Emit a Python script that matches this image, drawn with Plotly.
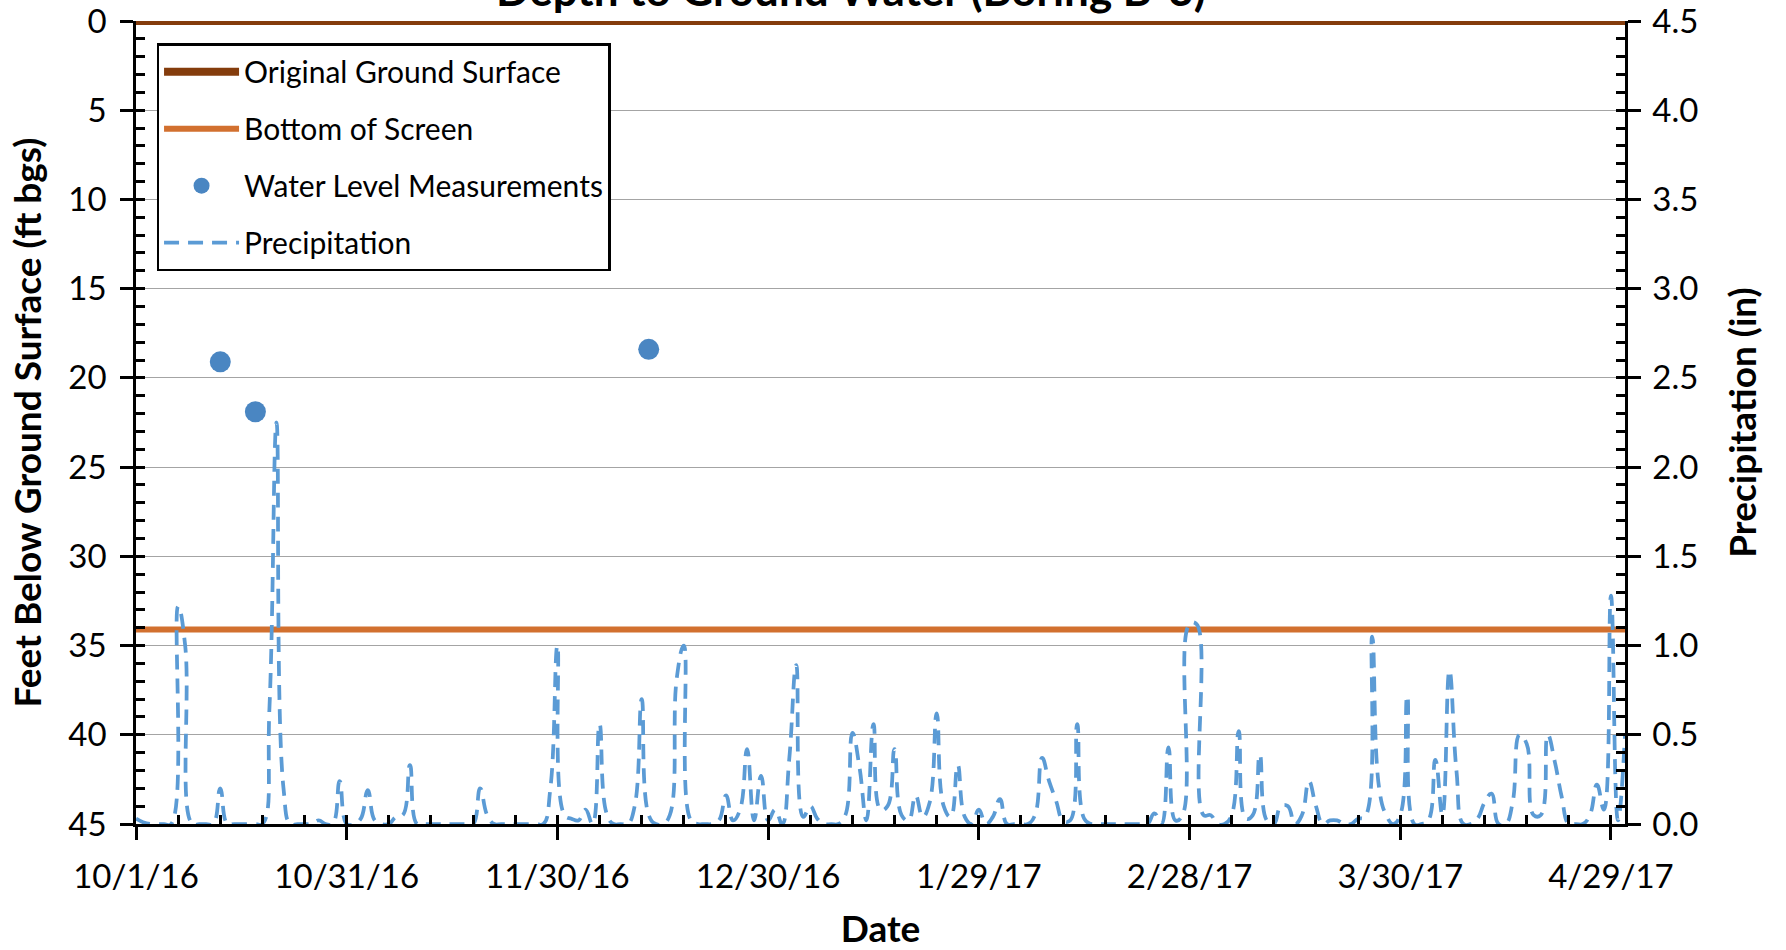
import pandas as pd
import plotly.graph_objects as go

# ---- data -------------------------------------------------------------
start_date = "2016-10-01"

# daily precipitation (in), one value per day from 10/1/16
precip_in = [
    0.03, 0.01, 0.00, 0.00, 0.00, 0.00, 1.22, 1.00, 0.00, 0.00,   # 10/1 - 10/10
    0.00, 0.00, 0.20, 0.00, 0.00, 0.00, 0.00, 0.00, 0.00, 0.65,   # 10/11 - 10/20
    2.25, 0.20, 0.00, 0.00, 0.00, 0.00, 0.02, 0.00, 0.00, 0.24,   # 10/21 - 10/30
    0.00, 0.00, 0.03, 0.19, 0.02, 0.00, 0.00, 0.04, 0.05, 0.33,   # 10/31 - 11/9
    0.00, 0.00, 0.00, 0.00, 0.00, 0.00, 0.00, 0.00, 0.00, 0.20,   # 11/10 - 11/19
    0.05, 0.00, 0.00, 0.00, 0.00, 0.00, 0.00, 0.00, 0.00, 0.20,   # 11/20 - 11/29
    1.00, 0.05, 0.03, 0.02, 0.08, 0.00, 0.56, 0.06, 0.00, 0.00,   # 11/30 - 12/9
    0.00, 0.10, 0.70, 0.05, 0.00, 0.00, 0.05, 0.82, 1.00, 0.02,   # 12/10 - 12/19
    0.00, 0.00, 0.00, 0.02, 0.16, 0.02, 0.08, 0.42, 0.02, 0.27,   # 12/20 - 12/29
    0.02, 0.08, 0.00, 0.36, 0.89, 0.04, 0.10, 0.03, 0.00, 0.00,   # 12/30 - 1/8
    0.00, 0.05, 0.51, 0.32, 0.02, 0.56, 0.08, 0.10, 0.42, 0.05,   # 1/9 - 1/18
    0.02, 0.16, 0.04, 0.12, 0.62, 0.10, 0.04, 0.33, 0.04, 0.00,   # 1/19 - 1/28
    0.08, 0.00, 0.04, 0.14, 0.00, 0.00, 0.00, 0.00, 0.05, 0.37,   # 1/29 - 2/7
    0.24, 0.13, 0.02, 0.02, 0.56, 0.03, 0.00, 0.00, 0.00, 0.00,   # 2/8 - 2/17
    0.00, 0.00, 0.00, 0.00, 0.00, 0.06, 0.00, 0.43, 0.02, 0.05,   # 2/18 - 2/27
    1.12, 1.12, 0.05, 0.05, 0.00, 0.00, 0.05, 0.52, 0.03, 0.05,   # 2/28 - 3/9
    0.39, 0.02, 0.00, 0.10, 0.10, 0.00, 0.05, 0.24, 0.10, 0.00,   # 3/10 - 3/19
    0.02, 0.02, 0.00, 0.00, 0.03, 0.04, 1.05, 0.20, 0.05, 0.00,   # 3/20 - 3/29
    0.05, 0.72, 0.00, 0.00, 0.02, 0.36, 0.05, 0.86, 0.30, 0.00,   # 3/30 - 4/8
    0.00, 0.03, 0.12, 0.17, 0.00, 0.00, 0.12, 0.50, 0.45, 0.05,   # 4/9 - 4/18
    0.05, 0.50, 0.35, 0.15, 0.00, 0.00, 0.00, 0.05, 0.22, 0.08,   # 4/19 - 4/28
    1.28, 0.02, 0.50,                                             # 4/29 - 5/1
]
precip_dates = pd.date_range(start_date, periods=len(precip_in), freq="D")

# manual depth-to-water readings (ft bgs)
wl_dates = ["2016-10-13", "2016-10-18", "2016-12-13"]
wl_depth_ft = [19.1, 21.9, 18.4]

# reference elevations (ft bgs)
ground_surface_ft = 0.0
screen_bottom_ft = 34.1

# axes
x_range = ["2016-10-01", "2017-05-01"]
x_tick_vals = ["2016-10-01", "2016-10-31", "2016-11-30", "2016-12-30",
               "2017-01-29", "2017-02-28", "2017-03-30", "2017-04-29"]
x_tick_text = ["10/1/16", "10/31/16", "11/30/16", "12/30/16",
               "1/29/17", "2/28/17", "3/30/17", "4/29/17"]
depth_ticks = [0, 5, 10, 15, 20, 25, 30, 35, 40, 45]
precip_ticks = [0.0, 0.5, 1.0, 1.5, 2.0, 2.5, 3.0, 3.5, 4.0, 4.5]
precip_tick_text = ["0.0", "0.5", "1.0", "1.5", "2.0", "2.5", "3.0", "3.5", "4.0", "4.5"]

# ---- styling ----------------------------------------------------------
FONT = "Lato"
BROWN = "#843C0C"
ORANGE = "#D2702F"
MARKER_BLUE = "#4A86C2"
LINE_BLUE = "#5B9BD5"
DAY_MS = 86400000

fig = go.Figure()

fig.add_trace(go.Scatter(
    x=x_range, y=[ground_surface_ft, ground_surface_ft], mode="lines",
    name="Original Ground Surface", legendgroup="g1",
    line=dict(color=BROWN, width=8), hoverinfo="skip"))
fig.add_trace(go.Scatter(
    x=x_range, y=[screen_bottom_ft, screen_bottom_ft], mode="lines",
    name="Bottom of Screen", legendgroup="g2",
    line=dict(color=ORANGE, width=6), hoverinfo="skip"))
fig.add_trace(go.Scatter(
    x=wl_dates, y=wl_depth_ft, mode="markers",
    name="Water Level Measurements", legendgroup="g3",
    marker=dict(color=MARKER_BLUE, size=21)))
fig.add_trace(go.Scatter(
    x=precip_dates, y=precip_in, mode="lines", yaxis="y2",
    name="Precipitation", legendgroup="g4",
    line=dict(color=LINE_BLUE, width=3.75, dash="15px,9px",
              shape="spline", smoothing=1.3)))

# empty traces that carry the inside (minor) tick axes
for xa, ya in (("x3", "y"), ("x", "y3"), ("x", "y4")):
    fig.add_trace(go.Scatter(x=[], y=[], xaxis=xa, yaxis=ya,
                             showlegend=False, hoverinfo="skip"))

tick_font = dict(family=FONT, size=33, color="black")
title_font = dict(family=FONT, size=37, color="black", weight="bold")
major = dict(showline=True, linecolor="black", linewidth=2.5, ticks="outside",
             ticklen=13, tickwidth=2.5, tickcolor="black", zeroline=False,
             tickfont=tick_font, ticklabeloverflow="allow", automargin=False)
minor_ticks = dict(showline=False, ticks="inside", ticklen=9, tickwidth=2.5,
                   tickcolor="black", showticklabels=False, showgrid=False,
                   zeroline=False, automargin=False)

fig.update_layout(
    width=1786, height=950,
    margin=dict(l=136, r=161, t=21, b=126, autoexpand=False),
    paper_bgcolor="white", plot_bgcolor="white",
    font=dict(family=FONT, color="black"),
    showlegend=True,
    legend=dict(x=0.0138, y=0.9724, xanchor="left", yanchor="top",
                bgcolor="white", bordercolor="black", borderwidth=2.5,
                font=dict(family=FONT, size=30, color="black"),
                traceorder="grouped", tracegroupgap=15, itemwidth=75),
    xaxis=dict(**major, type="date", range=x_range, tickmode="array",
               tickvals=x_tick_vals, ticktext=x_tick_text, showgrid=False,
               ticklabelstandoff=9,
               title=dict(text="Date", font=title_font, standoff=26)),
    xaxis3=dict(**minor_ticks, type="date", overlaying="x", anchor="y",
                side="bottom", range=x_range, tickmode="linear",
                tick0="2016-10-01", dtick=6 * DAY_MS),
    yaxis=dict(**major, range=[45, 0], tickmode="array", tickvals=depth_ticks,
               showgrid=True, gridcolor="#a4a4a4", gridwidth=1.3,
               ticklabelstandoff=7,
               title=dict(text="Feet Below Ground Surface (ft bgs)",
                          font=title_font, standoff=16)),
    yaxis2=dict(**major, overlaying="y", side="right", anchor="x",
                range=[0, 4.5], tickmode="array", tickvals=precip_ticks,
                ticktext=precip_tick_text, showgrid=False,
                ticklabelstandoff=5,
                title=dict(text="Precipitation (in)", font=title_font,
                           standoff=33)),
    yaxis3=dict(**minor_ticks, overlaying="y", anchor="x", side="left",
                range=[45, 0], tickmode="linear", tick0=0, dtick=1),
    yaxis4=dict(**minor_ticks, overlaying="y", anchor="x", side="right",
                range=[0, 4.5], tickmode="linear", tick0=0, dtick=0.1),
)

fig.add_annotation(
    text="Depth to Ground Water (Boring B-3)", xref="paper", yref="paper",
    x=0.4804, y=1.0056, xanchor="center", yanchor="bottom", showarrow=False,
    font=dict(family=FONT, size=44, color="black", weight="bold"))

fig.write_html("out.html")
